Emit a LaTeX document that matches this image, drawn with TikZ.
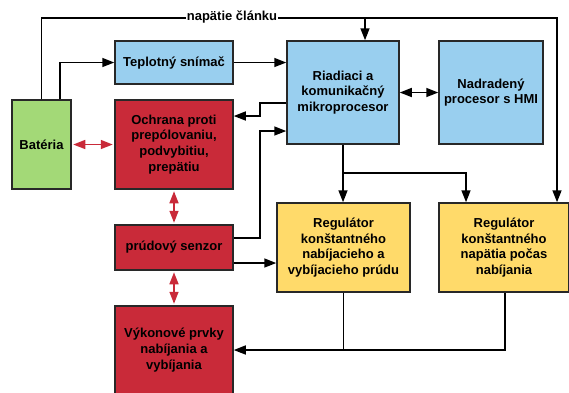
\documentclass[tikz,border=0pt]{standalone}
\usepackage{fontspec}
\setmainfont{Liberation Sans}
\usetikzlibrary{arrows.meta,calc}
\definecolor{cblue}{RGB}{153,207,239}
\definecolor{cred}{RGB}{201,42,57}
\definecolor{cgreen}{RGB}{163,217,119}
\definecolor{cyel}{RGB}{255,218,106}
\definecolor{cbord}{RGB}{40,40,40}
\begin{document}
\begin{tikzpicture}[x=1pt,y=-1pt,
  box/.style={draw=cbord,line width=1.5pt,align=center,inner sep=2pt,
    font=\fontsize{13}{15.8}\selectfont\bfseries},
  bluebox/.style={box,fill=cblue},
  redbox/.style={box,fill=cred},
  greenbox/.style={box,fill=cgreen},
  yelbox/.style={box,fill=cyel},
  line/.style={draw=black,line width=1.6pt},
  tip/.tip={Triangle[length=12pt,width=9pt]},
  arr/.style={line,-tip},
  darr/.style={line,tip-tip},
  rarr/.style={draw=cred,line width=1.6pt,tip-tip,shorten <=1.5pt,shorten >=1.5pt},
  lbl/.style={fill=white,inner sep=1pt,font=\fontsize{13}{15.8}\selectfont\bfseries}
]
\useasboundingbox (0,0) rectangle (569,392);

\node[greenbox,minimum width=59pt,minimum height=89pt] (bat) at (41.5,144.5) {Batéria};
\node[bluebox,minimum width=118pt,minimum height=43pt] (tep) at (174,62.5) {Teplotný snímač};
\node[redbox,minimum width=118pt,minimum height=89pt] (och) at (174,144.5) {Ochrana proti\\prepólovaniu,\\podvybitiu,\\prepätiu};
\node[redbox,minimum width=118pt,minimum height=45pt] (pru) at (174,247.5) {prúdový senzor};
\node[redbox,minimum width=118pt,minimum height=88pt] (vyk) at (174,350) {Výkonové prvky\\nabíjania a\\vybíjania};
\node[bluebox,minimum width=112pt,minimum height=103pt] (riad) at (343,92.5) {Riadiaci a\\komunikačný\\mikroprocesor};
\node[bluebox,minimum width=104pt,minimum height=103pt] (nad) at (491,92.5) {Nadradený\\procesor s HMI};
\node[yelbox,minimum width=133pt,minimum height=89pt] (reg1) at (343.5,247.5) {Regulátor\\konštantného\\nabíjacieho a\\vybíjacieho prúdu};
\node[yelbox,minimum width=130pt,minimum height=89pt] (reg2) at (504,247.5) {Regulátor\\konštantného\\napätia počas\\nabíjania};

% napätie článku bus
\coordinate (top) at (0,18);
\coordinate (r2a) at ($(reg2.north)+(53,0)$);
\coordinate (r2b) at ($(reg2.north)+(-38,0)$);
\coordinate (rn) at ($(riad.north)+(22,0)$);
\draw[arr] (bat.north) -- (bat.north |- top) -| (r2a);
\draw[arr] (rn |- top) -- (rn);
\node[lbl] (nap) at (232,17) {napätie článku};

% battery -> temp sensor -> MCU
\coordinate (bt) at ($(bat.north)+(18.5,0)$);
\draw[arr] (bt) |- (tep.west);
\draw[arr] (tep.east) -- (tep.east -| riad.west);

% MCU -> protection, current sensor -> MCU
\coordinate (vx) at (260,0);
\coordinate (m1) at ($(riad.west)+(0,10.5)$);
\coordinate (o1) at ($(och.east)+(0,-28.5)$);
\coordinate (p1) at ($(pru.east)+(0,-9.5)$);
\coordinate (m2) at ($(riad.west)+(0,38.5)$);
\coordinate (p2) at ($(pru.east)+(0,15.5)$);
\draw[arr] (m1) -- (m1 -| vx) -- (o1 -| vx) -- (o1);
\draw[arr] (p1) -- (p1 -| vx) -- (m2 -| vx) -- (m2);
\draw[arr] (p2) -- (p2 -| reg1.west);

% MCU -> regulators
\coordinate (hy) at (0,173);
\draw[arr] (riad.south) -- (riad.south |- reg1.north);
\draw[arr] (riad.south |- hy) -| (r2b);

% regulators -> power stage
\coordinate (r2s) at ($(reg2.south)+(1,0)$);
\draw[line] (reg1.south) -- (reg1.south |- vyk.east);
\draw[arr] (r2s) |- (vyk.east);

\draw[darr] (riad.east) -- (nad.west);

\draw[rarr] (bat.east) -- (och.west);
\draw[rarr] (och.south) -- (pru.north);
\draw[rarr] (pru.south) -- (vyk.north);
\end{tikzpicture}
\end{document}
